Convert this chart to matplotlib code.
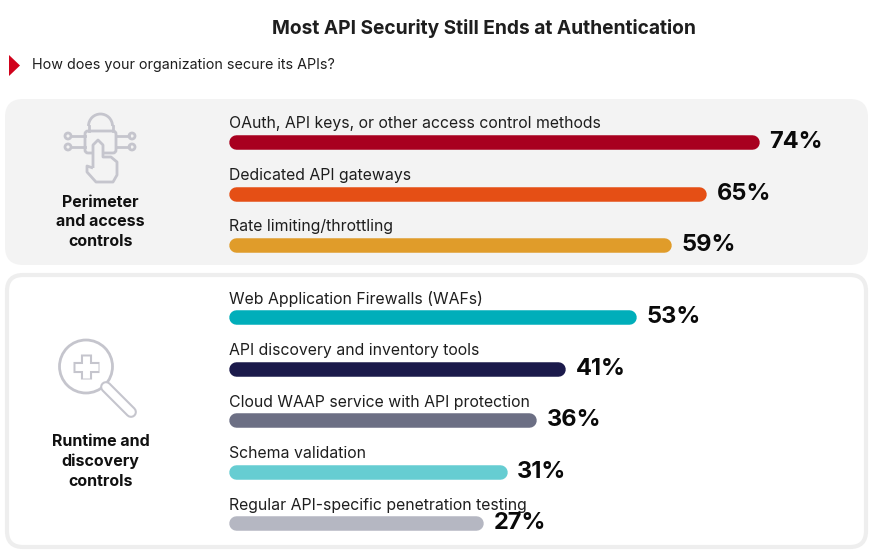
import numpy as np
import matplotlib
matplotlib.use("Agg")
import matplotlib.pyplot as plt
from matplotlib.patches import FancyBboxPatch, Polygon, Circle, Arc, PathPatch
from matplotlib.path import Path

plt.rcParams["font.family"] = ["Inter", "DejaVu Sans"]

# Data
title = "Most API Security Still Ends at Authentication"
question = "How does your organization secure its APIs?"
groups = ["Perimeter\nand access\ncontrols", "Runtime and\ndiscovery\ncontrols"]
methods = [
    "OAuth, API keys, or other access control methods",
    "Dedicated API gateways",
    "Rate limiting/throttling",
    "Web Application Firewalls (WAFs)",
    "API discovery and inventory tools",
    "Cloud WAAP service with API protection",
    "Schema validation",
    "Regular API-specific penetration testing",
]
shares = [74, 65, 59, 53, 41, 36, 31, 27]
group_of = [0, 0, 0, 1, 1, 1, 1, 1]
colors = ["#a8001f", "#e54f15", "#e09c2a", "#00aeba",
          "#1b1a4b", "#6c6f84", "#66cdd2", "#b5b7c2"]

W, H = 876, 557
fig = plt.figure(figsize=(W / 100, H / 100), dpi=100)
fig.patch.set_facecolor("white")

# background / decoration layer in pixel units
bg = fig.add_axes([0, 0, 1, 1])
bg.set_xlim(0, W)
bg.set_ylim(H, 0)
bg.axis("off")

bg.add_patch(FancyBboxPatch((5, 99), 863, 166, boxstyle="round,pad=0,rounding_size=18",
                            facecolor="#f3f3f3", edgecolor="none"))
bg.add_patch(FancyBboxPatch((7, 275), 859, 272, boxstyle="round,pad=0,rounding_size=16",
                            facecolor="white", edgecolor="#eeeeee", linewidth=3))

bg.text(484, 28, title, ha="center", va="center", fontsize=13.8,
        fontweight="bold", color="#1e1e1e")
bg.add_patch(Polygon([[9, 55], [20, 65.5], [9, 76]], closed=True,
                     facecolor="#d0021b", edgecolor="none"))
bg.text(32, 65.5, question, ha="left", va="center", fontsize=10.3, color="#1e1e1e")

icon_c = "#c5c5cd"
# lock + hand icon
bg.add_patch(Arc((100.5, 126), 24, 24, theta1=180, theta2=360, color=icon_c, lw=2))
bg.plot([88.5, 88.5], [126, 131], color=icon_c, lw=2)
bg.plot([112.5, 112.5], [126, 131], color=icon_c, lw=2)
bg.add_patch(FancyBboxPatch((85, 131), 31, 22, boxstyle="round,pad=0,rounding_size=3",
                            facecolor="#f3f3f3", edgecolor=icon_c, lw=2))
for yy in (136, 147):
    bg.plot([71, 85], [yy, yy], color=icon_c, lw=2)
    bg.plot([116, 129], [yy, yy], color=icon_c, lw=2)
    bg.add_patch(Circle((68, yy), 3, facecolor="#f3f3f3", edgecolor=icon_c, lw=2))
    bg.add_patch(Circle((132, yy), 3, facecolor="#f3f3f3", edgecolor=icon_c, lw=2))
hand = [(93, 168), (93, 145), (98, 140), (103, 145), (103, 157), (111, 157),
        (117, 162), (117, 175), (113, 182), (96, 182), (87, 172), (87, 166),
        (93, 168)]
bg.add_patch(PathPatch(Path(hand), facecolor="#f3f3f3", edgecolor=icon_c, lw=2,
                       joinstyle="round"))

# magnifier icon
bg.plot([106, 131], [387, 412], color=icon_c, lw=8.5, solid_capstyle="round")
bg.plot([106, 131], [387, 412], color="white", lw=5.5, solid_capstyle="round")
bg.add_patch(Circle((86, 366.5), 26.5, facecolor="white", edgecolor=icon_c, lw=2))
bg.plot([86, 86], [354, 379], color=icon_c, lw=8, solid_capstyle="butt")
bg.plot([73, 99], [366.5, 366.5], color=icon_c, lw=8, solid_capstyle="butt")
bg.plot([86, 86], [355.5, 377.5], color="white", lw=5, solid_capstyle="butt")
bg.plot([74.5, 97.5], [366.5, 366.5], color="white", lw=5, solid_capstyle="butt")

group_y = [222, 461.5]
for g, gy in zip(groups, group_y):
    bg.text(100.5, gy, g, ha="center", va="center", fontsize=11.5,
            fontweight="bold", color="#111111", linespacing=1.38)

# bar layer: value axis + row axis
ax = fig.add_axes([0, 0, 1, 1])
ax.patch.set_alpha(0)
ax.axis("off")
px_per_pct = 5.862
zero_px = 325.4
row_px, row0_px = 51.5, 142
ax.set_xlim(-zero_px / px_per_pct, (W - zero_px) / px_per_pct)
ax.set_ylim((H - row0_px) / row_px, -row0_px / row_px)

group_gap = 0.4
rows = np.arange(len(shares)) + group_gap * np.array(group_of)
bar_start = (229 - zero_px) / px_per_pct
bar_px = 14.5
cap = bar_px / 2 / px_per_pct

for r, v, c, lab in zip(rows, shares, colors, methods):
    ax.plot([bar_start + cap, v - cap], [r, r], color=c, lw=bar_px * 0.72,
            solid_capstyle="round")
    ax.text(bar_start, r - 0.35, lab, ha="left", va="center", fontsize=11.4,
            color="#1e1e1e")
    ax.text(v + 10 / px_per_pct, r, f"{v}%", ha="left", va="center",
            fontsize=17, fontweight="bold", color="#0a0a0a")

fig.savefig("out.png", dpi=100, facecolor="white")
